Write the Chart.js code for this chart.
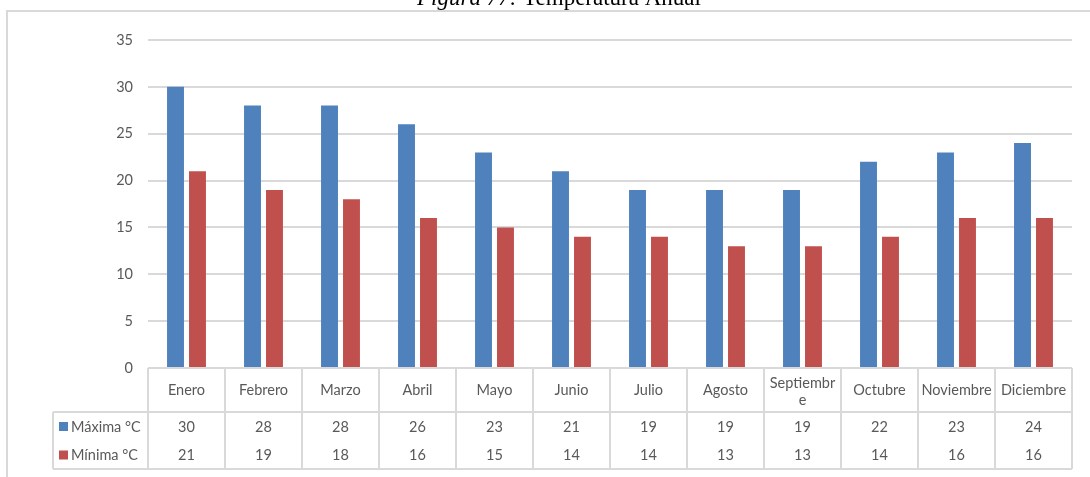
<!DOCTYPE html>
<html>
<head>
<meta charset="utf-8">
<script src="https://cdn.jsdelivr.net/npm/chart.js@4"></script>
<style>
  html, body { margin: 0; padding: 0; background: #fff; }
  #wrap { position: relative; width: 1090px; height: 477px; }
</style>
</head>
<body>
<div id="wrap"><canvas id="temperatura_anual" width="1090" height="477"></canvas></div>
<script>
// datos mensuales
const meses = ['Enero', 'Febrero', 'Marzo', 'Abril', 'Mayo', 'Junio', 'Julio', 'Agosto', ['Septiembr', 'e'], 'Octubre', 'Noviembre', 'Diciembre'];
const tempMaxima = [30, 28, 28, 26, 23, 21, 19, 19, 19, 22, 23, 24];
const tempMinima = [21, 19, 18, 16, 15, 14, 14, 13, 13, 14, 16, 16];
const nombresSeries = ['Máxima °C', 'Mínima °C'];
const tituloFigura = ['Figura 77:', ' Temperatura Anual'];

const AZUL = '#4F81BD';
const ROJO = '#C0504D';
const GRIS = '#D9D9D9';
const TEXTO = '#595959';
const FUENTE = 'Lato';
const TAM = 14.5;

// tabla de datos debajo del eje, titulo y marco
const tablaDatos = {
    id: 'tablaDatos',
    afterDraw(chart) {
        const ctx = chart.ctx;
        const area = chart.chartArea;
        const xs = chart.scales.x;
        const ancho = (area.right - area.left) / meses.length;
        const yTop = area.bottom;
        const yCat = yTop + 44;
        const yFin = yCat + 57;
        const izqLeyenda = 53;

        ctx.save();
        // marco del grafico
        ctx.strokeStyle = GRIS;
        ctx.lineWidth = 2;
        ctx.beginPath();
        ctx.moveTo(7, chart.height + 5);
        ctx.lineTo(7, 11);
        ctx.lineTo(chart.width + 5, 11);
        ctx.stroke();

        // titulo
        ctx.fillStyle = '#000';
        ctx.textBaseline = 'alphabetic';
        ctx.font = 'italic 23px "Liberation Serif"';
        const w1 = ctx.measureText(tituloFigura[0]).width;
        ctx.font = '23px "Liberation Serif"';
        const w2 = ctx.measureText(tituloFigura[1]).width;
        let tx = 559 - (w1 + w2) / 2;
        ctx.textAlign = 'left';
        ctx.font = 'italic 23px "Liberation Serif"';
        ctx.fillText(tituloFigura[0], tx, 5);
        ctx.font = '23px "Liberation Serif"';
        ctx.fillText(tituloFigura[1], tx + w1, 5);

        // lineas de la tabla
        ctx.strokeStyle = GRIS;
        ctx.lineWidth = 2;
        ctx.beginPath();
        for (let i = 0; i <= meses.length; i++) {
            const x = area.left + i * ancho;
            ctx.moveTo(x, yTop);
            ctx.lineTo(x, yFin);
        }
        ctx.moveTo(izqLeyenda, yCat);
        ctx.lineTo(area.right, yCat);
        ctx.moveTo(izqLeyenda, yCat);
        ctx.lineTo(izqLeyenda, yFin);
        ctx.moveTo(izqLeyenda, yFin);
        ctx.lineTo(area.right, yFin);
        ctx.stroke();

        // categorias
        ctx.fillStyle = TEXTO;
        ctx.font = TAM + 'px ' + FUENTE;
        ctx.textAlign = 'center';
        ctx.textBaseline = 'middle';
        meses.forEach((m, i) => {
            const x = xs.getPixelForValue(i);
            if (Array.isArray(m)) {
                ctx.fillText(m[0], x, yTop + 15);
                ctx.fillText(m[1], x, yTop + 32);
            } else {
                ctx.fillText(m, x, yTop + 22);
            }
        });

        // filas de valores
        const filas = [tempMaxima, tempMinima];
        const colores = [AZUL, ROJO];
        filas.forEach((serie, f) => {
            const y = yCat + 15 + f * 28.5;
            ctx.textAlign = 'center';
            serie.forEach((v, i) => {
                ctx.fillText(String(v), xs.getPixelForValue(i), y);
            });
            ctx.fillStyle = colores[f];
            ctx.fillRect(59, y - 5, 9, 9);
            ctx.fillStyle = TEXTO;
            ctx.textAlign = 'left';
            ctx.fillText(nombresSeries[f], 71, y);
        });
        ctx.restore();
    }
};

const ctx = document.getElementById('temperatura_anual').getContext('2d');
const grafico = new Chart(ctx, {
    type: 'bar',
    data: {
        labels: meses,
        datasets: [{
            label: nombresSeries[0],
            data: tempMaxima,
            backgroundColor: AZUL,
            categoryPercentage: 0.571,
            barPercentage: 0.77
        }, {
            label: nombresSeries[1],
            data: tempMinima,
            backgroundColor: ROJO,
            categoryPercentage: 0.571,
            barPercentage: 0.77
        }]
    },
    options: {
        responsive: false,
        animation: false,
        events: [],
        layout: { padding: { top: 40, right: 18, bottom: 109, left: 0 } },
        plugins: {
            legend: { display: false },
            tooltip: { enabled: false }
        },
        scales: {
            x: { display: false },
            y: {
                min: 0,
                max: 35,
                ticks: {
                    stepSize: 5,
                    padding: 15,
                    color: TEXTO,
                    font: { family: FUENTE, size: TAM }
                },
                grid: { color: GRIS, lineWidth: 2, drawTicks: false },
                border: { display: false },
                afterFit(scale) { scale.width = 148; }
            }
        }
    },
    plugins: [tablaDatos]
});
</script>
</body>
</html>
